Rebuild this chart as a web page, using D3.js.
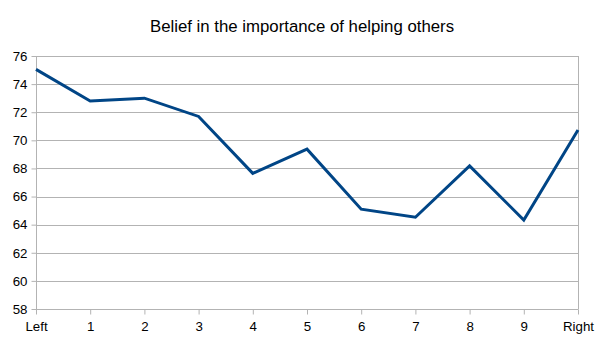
<!DOCTYPE html>
<html>
<head>
<meta charset="utf-8">
<script src="https://cdn.jsdelivr.net/npm/d3@7"></script>
<style>
  html, body { margin: 0; padding: 0; background: #fff; }
  svg { display: block; font-family: "Liberation Sans", Arial, sans-serif; }
</style>
</head>
<body>
<svg id="chart" width="605" height="340"></svg>
<script>
// Position on the left–right scale and the share holding the belief
const categories = ["Left", "1", "2", "3", "4", "5", "6", "7", "8", "9", "Right"];
const values = [75.05, 72.8, 73.0, 71.7, 67.65, 69.37, 65.1, 64.53, 68.18, 64.33, 70.74];
const yTicks = [58, 60, 62, 64, 66, 68, 70, 72, 74, 76];
const title = "Belief in the importance of helping others";

const svg = d3.select("#chart");
const margin = { left: 36, right: 27, top: 56, bottom: 31 };
const W = 605, H = 340;

const x = d3.scalePoint().domain(categories).range([margin.left, W - margin.right]);
const y = d3.scaleLinear().domain([58, 76]).range([H - margin.bottom, margin.top]);

const grid = "#b3b3b3";

// Horizontal grid lines
svg.append("g")
  .selectAll("line")
  .data(yTicks)
  .join("line")
  .attr("x1", margin.left).attr("x2", W - margin.right)
  .attr("y1", d => Math.round(y(d)) + 0.5).attr("y2", d => Math.round(y(d)) + 0.5)
  .attr("stroke", grid).attr("stroke-width", 1);

// Right border
svg.append("line")
  .attr("x1", Math.round(W - margin.right) + 0.5).attr("x2", Math.round(W - margin.right) + 0.5)
  .attr("y1", margin.top).attr("y2", H - margin.bottom)
  .attr("stroke", grid);

// Y axis
const yAxis = svg.append("g")
  .attr("transform", `translate(${margin.left + 0.5},0)`)
  .call(d3.axisLeft(y).tickValues(yTicks).tickSize(5).tickPadding(4).tickFormat(d3.format("d")));
yAxis.select(".domain").attr("stroke", grid).attr("d", `M0,${margin.top}V${H - margin.bottom + 0.5}`);
yAxis.selectAll(".tick line").attr("stroke", grid);
yAxis.selectAll(".tick text").attr("fill", "#000").style("font-size", "13.3px")
  .style("font-family", "'Liberation Sans', Arial, sans-serif");

// X axis
const xAxis = svg.append("g")
  .attr("transform", `translate(0,${Math.round(H - margin.bottom) + 0.5})`)
  .call(d3.axisBottom(x).tickSize(5).tickPadding(7));
xAxis.select(".domain").attr("stroke", grid).attr("d", `M${margin.left},0H${W - margin.right + 0.5}`);
xAxis.selectAll(".tick line").attr("stroke", grid);
xAxis.selectAll(".tick text").attr("fill", "#000").style("font-size", "13.3px")
  .style("font-family", "'Liberation Sans', Arial, sans-serif");

// Data line
const line = d3.line()
  .x((d, i) => x(categories[i]))
  .y(d => y(d));
svg.append("path")
  .datum(values)
  .attr("d", line)
  .attr("fill", "none")
  .attr("stroke", "#004586")
  .attr("stroke-width", 3)
  .attr("stroke-linejoin", "miter");

// Title
svg.append("text")
  .attr("x", 302).attr("y", 32)
  .attr("text-anchor", "middle")
  .style("font-size", "16.8px")
  .attr("fill", "#000")
  .text(title);
</script>
</body>
</html>
